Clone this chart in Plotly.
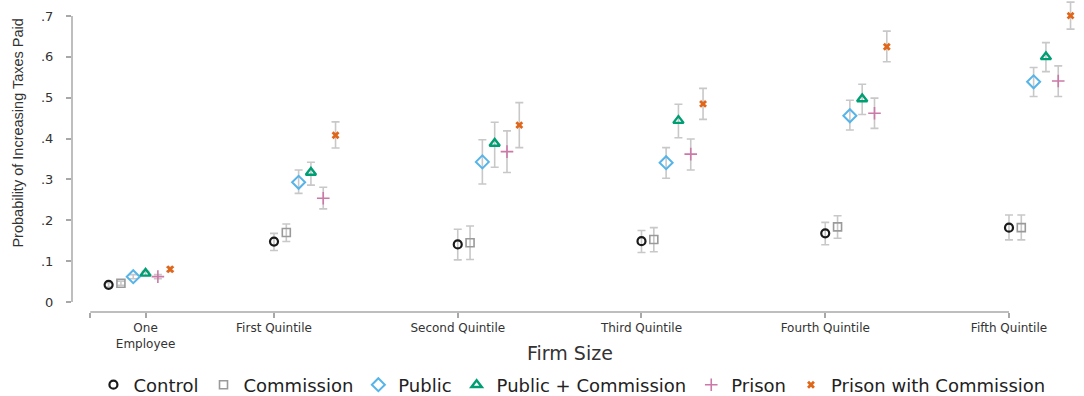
import plotly.graph_objects as go

# Firm-size groups (x categories)
groups = ["One<br>Employee", "First Quintile", "Second Quintile",
          "Third Quintile", "Fourth Quintile", "Fifth Quintile"]

# Treatment arms
series = ["Control", "Commission", "Public", "Public + Commission",
          "Prison", "Prison with Commission"]

# Point estimates per arm, one value per firm-size group
control = [0.042, 0.148, 0.141, 0.149, 0.168, 0.182]
commission = [0.046, 0.170, 0.145, 0.153, 0.184, 0.182]
public = [0.062, 0.293, 0.343, 0.341, 0.456, 0.539]
public_commission = [0.070, 0.317, 0.388, 0.444, 0.497, 0.600]
prison = [0.062, 0.254, 0.368, 0.362, 0.462, 0.541]
prison_commission = [0.080, 0.408, 0.433, 0.485, 0.625, 0.701]

# Confidence interval bounds
control_lo = [0.037, 0.126, 0.103, 0.121, 0.140, 0.152]
control_hi = [0.047, 0.168, 0.178, 0.175, 0.195, 0.213]
commission_lo = [0.041, 0.148, 0.104, 0.123, 0.156, 0.152]
commission_hi = [0.051, 0.191, 0.186, 0.182, 0.211, 0.213]
public_lo = [0.057, 0.266, 0.289, 0.303, 0.421, 0.503]
public_hi = [0.067, 0.323, 0.397, 0.378, 0.494, 0.574]
public_commission_lo = [0.065, 0.286, 0.330, 0.402, 0.459, 0.564]
public_commission_hi = [0.075, 0.342, 0.440, 0.484, 0.533, 0.635]
prison_lo = [0.057, 0.228, 0.317, 0.323, 0.425, 0.503]
prison_hi = [0.067, 0.281, 0.419, 0.399, 0.499, 0.578]
prison_commission_lo = [0.075, 0.377, 0.378, 0.447, 0.588, 0.668]
prison_commission_hi = [0.085, 0.441, 0.488, 0.523, 0.663, 0.734]

# y-axis tick labels
y_ticks = [0, 0.1, 0.2, 0.3, 0.4, 0.5, 0.6, 0.7]
y_tick_text = ["0", ".1", ".2", ".3", ".4", ".5", ".6", ".7"]

# Layout of groups along the numeric x axis
group_base = [0.1, 1, 2, 3, 4, 5]       # position of the first arm in each group
tick_pos = [0.301, 1, 2, 3, 4, 5]       # where each group label sits
step = 0.067                            # spacing between arms in a group

estimates = [control, commission, public, public_commission, prison, prison_commission]
lows = [control_lo, commission_lo, public_lo, public_commission_lo, prison_lo, prison_commission_lo]
highs = [control_hi, commission_hi, public_hi, public_commission_hi, prison_hi, prison_commission_hi]

styles = [
    dict(symbol="circle-open", color="#1a1a1a", size=8, lw=2.2),
    dict(symbol="square-open", color="#9a9a9a", size=8, lw=1.6),
    dict(symbol="diamond-open", color="#56B4E9", size=10, lw=2.0),
    dict(symbol="triangle-up-open", color="#009E73", size=9, lw=2.4),
    dict(symbol="cross-thin-open", color="#CC79A7", size=9, lw=1.6),
    dict(symbol="x", color="#E0661A", size=7, lw=0),
]

fig = go.Figure()
for k, (name, est, lo, hi, st) in enumerate(zip(series, estimates, lows, highs, styles)):
    xs = [b + k * step for b in group_base]
    fig.add_trace(go.Scatter(
        x=xs, y=est, mode="markers", name=name,
        marker=dict(symbol=st["symbol"], size=st["size"], color=st["color"],
                    line=dict(width=st["lw"], color=st["color"])),
        error_y=dict(type="data", symmetric=False,
                     array=[h - e for h, e in zip(hi, est)],
                     arrayminus=[e - l for e, l in zip(est, lo)],
                     color="#c8c8c8", thickness=1.6, width=4),
    ))

axis_color = "#a8a8a8"
tick_font = dict(family="DejaVu Sans", size=12, color="#333333")

fig.update_layout(
    width=1084, height=396,
    margin=dict(l=72, r=0, t=0, b=84, autoexpand=False),
    paper_bgcolor="white", plot_bgcolor="white",
    showlegend=True,
    legend=dict(orientation="h", x=0.494, xanchor="center", y=-0.2340, yanchor="middle",
                font=dict(family="DejaVu Sans", size=18, color="#222222"),
                itemwidth=30, bgcolor="rgba(0,0,0,0)"),
    xaxis=dict(range=[-0.0993, 5.4082], showgrid=False, zeroline=False, showline=False,
               tickvals=[0] + tick_pos, ticktext=[""] + groups,
               ticks="outside", ticklen=5, tickwidth=1.5, tickcolor=axis_color,
               tickfont=tick_font),
    yaxis=dict(range=[-0.0245, 0.7393], showgrid=False, zeroline=False, showline=False,
               tickvals=y_ticks, ticktext=y_tick_text,
               ticks="outside", ticklen=5, tickwidth=1.5, tickcolor=axis_color,
               tickfont=dict(family="DejaVu Sans", size=13, color="#333333"),
               ticklabelstandoff=10),
    shapes=[
        # x axis line spanning the labelled groups
        dict(type="line", xref="x", yref="paper", x0=0, x1=5, y0=0, y1=0,
             line=dict(color=axis_color, width=1.5)),
        # y axis line spanning the labelled range
        dict(type="line", xref="paper", yref="y", x0=0, x1=0, y0=0, y1=0.7,
             line=dict(color=axis_color, width=1.5)),
    ],
    annotations=[
        dict(text="Firm Size", xref="paper", yref="paper", x=0.492, y=-0.131,
             xanchor="center", yanchor="middle", showarrow=False,
             font=dict(family="DejaVu Sans", size=19, color="#333333")),
        dict(text="Probability of Increasing Taxes Paid", xref="paper", yref="paper",
             x=-0.0534, y=0.575, xanchor="center", yanchor="middle", textangle=-90,
             showarrow=False,
             font=dict(family="Liberation Sans", size=14.5, color="#333333")),
    ],
)

fig.write_html("out.html")
